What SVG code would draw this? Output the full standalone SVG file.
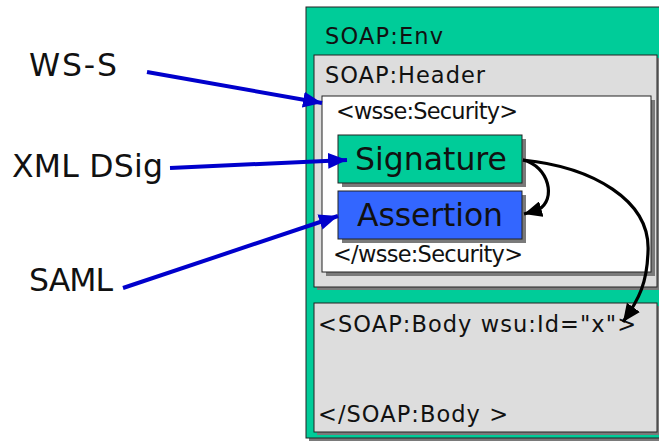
<svg xmlns="http://www.w3.org/2000/svg" width="659" height="441" viewBox="0 0 659 441">
  <style>
    .box { stroke: #222222; stroke-width: 1; }
    .shadow { fill: #7a7a7a; }
    .env { fill: #00cc99; }
    .gray { fill: #dddddd; }
    .white { fill: #ffffff; }
    .sig { fill: #00cc99; }
    .asr { fill: #3366ff; }
    text { font-family: "DejaVu Sans", Verdana, sans-serif; fill: #111111; }
    .t21 { font-size: 22.5px; }
    .t30 { font-size: 31.5px; }
    .blue { stroke: #0000cc; stroke-width: 4; fill: none; }
    .black { stroke: #000000; stroke-width: 3.2; fill: none; }
  </style>
  <defs>
    <marker id="ah-blue" markerUnits="userSpaceOnUse" markerWidth="20" markerHeight="16" refX="19" refY="8" orient="auto">
      <path d="M0,0 L19,8 L0,16 Z" fill="#0000cc"/>
    </marker>
    <marker id="ah-black" markerUnits="userSpaceOnUse" markerWidth="20" markerHeight="16" refX="18" refY="8" orient="auto">
      <path d="M0,0 L18,8 L0,16 Z" fill="#000000"/>
    </marker>
  </defs>

  <rect width="659" height="441" fill="#ffffff"/>

  <!-- SOAP envelope -->
  <g id="envelope">
    <rect class="shadow" x="309" y="10" width="360" height="431"/>
    <rect class="env box" x="306" y="7" width="360" height="431"/>
    <text class="t21" x="325" y="44" textLength="118" lengthAdjust="spacing">SOAP:Env</text>
  </g>

  <!-- SOAP header -->
  <g id="header">
    <rect class="shadow" x="317" y="58" width="343" height="232"/>
    <rect class="gray box" x="314" y="55" width="343" height="232"/>
    <text class="t21" x="325" y="83" textLength="160" lengthAdjust="spacing">SOAP:Header</text>
  </g>

  <!-- wsse:Security element -->
  <g id="security">
    <rect class="shadow" x="326" y="100" width="329" height="176"/>
    <rect class="white box" x="322" y="96" width="329" height="176"/>
    <text class="t21" x="336" y="119" textLength="182" lengthAdjust="spacing">&lt;wsse:Security&gt;</text>
    <text class="t21" x="333" y="262" textLength="190" lengthAdjust="spacing">&lt;/wsse:Security&gt;</text>
  </g>

  <g id="signature">
    <rect class="shadow" x="342" y="139" width="184" height="48"/>
    <rect class="sig box" x="338" y="135" width="184" height="48"/>
    <text class="t30" x="355" y="170" textLength="152" lengthAdjust="spacing">Signature</text>
  </g>

  <g id="assertion">
    <rect class="shadow" x="342" y="195" width="184" height="48"/>
    <rect class="asr box" x="338" y="191" width="184" height="48"/>
    <text class="t30" x="357" y="226" textLength="146" lengthAdjust="spacing">Assertion</text>
  </g>

  <!-- SOAP body -->
  <g id="body">
    <rect class="shadow" x="317" y="306" width="343" height="129"/>
    <rect class="gray box" x="314" y="303" width="343" height="129"/>
    <text class="t21" x="318" y="332" textLength="318" lengthAdjust="spacing">&lt;SOAP:Body wsu:Id="x"&gt;</text>
    <text class="t21" x="318" y="422" textLength="190" lengthAdjust="spacing">&lt;/SOAP:Body &gt;</text>
  </g>

  <!-- side labels -->
  <g id="label-wss">
    <text class="t30" x="29" y="76" textLength="88" lengthAdjust="spacing">WS-S</text>
  </g>
  <g id="label-dsig">
    <text class="t30" x="12" y="177" textLength="151" lengthAdjust="spacing">XML DSig</text>
  </g>
  <g id="label-saml">
    <text class="t30" x="29" y="291" textLength="84" lengthAdjust="spacing">SAML</text>
  </g>

  <!-- connectors -->
  <g id="connectors">
    <line class="blue" x1="147" y1="72" x2="322" y2="103" marker-end="url(#ah-blue)"/>
    <line class="blue" x1="170" y1="168" x2="347" y2="160" marker-end="url(#ah-blue)"/>
    <line class="blue" x1="123" y1="288" x2="338" y2="216" marker-end="url(#ah-blue)"/>
    <path class="black" d="M523,160 C549,166 557,200 538,210 L524,214" marker-end="url(#ah-black)"/>
    <path class="black" d="M523,160 C592,167 651,200 648,252 C647,282 640,298 623,322" marker-end="url(#ah-black)"/>
  </g>
</svg>
